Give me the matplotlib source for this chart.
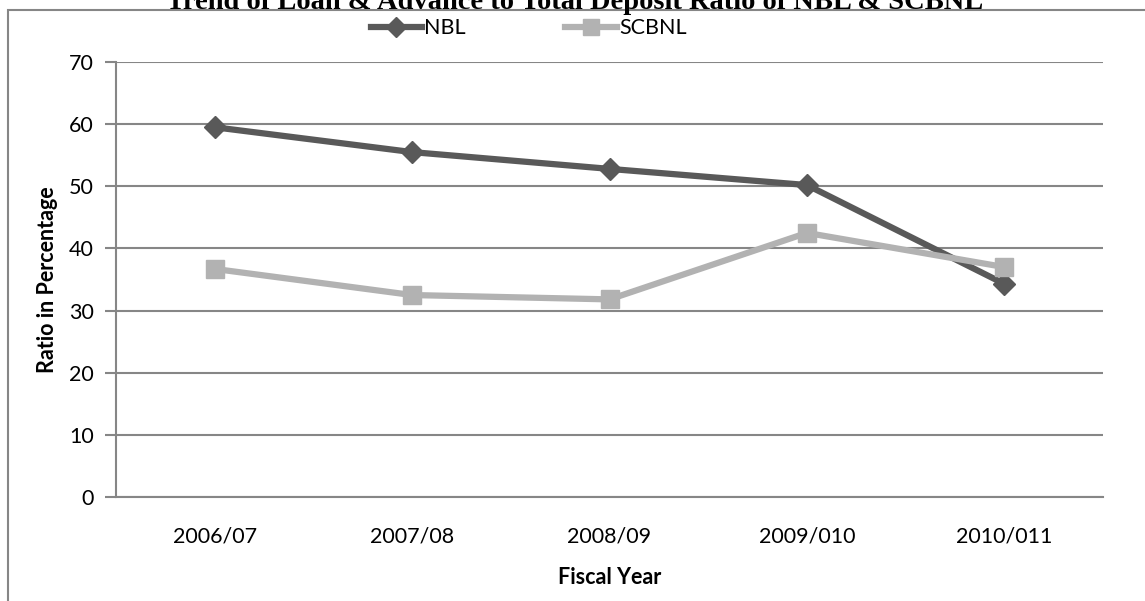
import matplotlib
matplotlib.use("Agg")
from matplotlib import pyplot as plt
from matplotlib.patches import Rectangle

years = ["2006/07", "2007/08", "2008/09", "2009/010", "2010/011"]
nbl = [59.5, 55.5, 52.8, 50.2, 34.3]
scbnl = [36.7, 32.5, 31.8, 42.5, 37.0]

plt.rcParams['font.family'] = ['Lato', 'DejaVu Sans']

fig = plt.figure(figsize=(11.45, 6.01), dpi=100)
W, H = 1145, 601
# axes placed in pixel units of the reference
ax = fig.add_axes([116 / W, 1 - 497 / H, (1103 - 116) / W, (497 - 62) / H])

x = list(range(len(years)))
ax.plot(x, nbl, color="#595959", lw=4.5, marker="D", ms=11, label="NBL", zorder=3)
ax.plot(x, scbnl, color="#b2b2b2", lw=4.5, marker="s", ms=13, label="SCBNL", zorder=3)

ax.set_xlim(-0.5, len(years) - 0.5)
ax.set_ylim(0, 70)
ax.set_yticks(range(0, 71, 10))
ax.set_xticks(x)
ax.set_xticklabels(years)
ax.grid(axis="y", color="#868686", lw=1.5)
ax.set_axisbelow(True)
for s in ["top", "right"]:
    ax.spines[s].set_visible(False)
for s in ["left", "bottom"]:
    ax.spines[s].set_color("#868686")
    ax.spines[s].set_linewidth(1.5)
ax.tick_params(axis="y", length=8, width=1.5, color="#868686", labelsize=15.5, pad=8)
ax.tick_params(axis="x", length=0, labelsize=15.5, pad=21)

ax.set_xlabel("Fiscal Year", fontsize=15.5, fontweight="bold", labelpad=15)
ax.set_ylabel("Ratio in Percentage", fontsize=15.5, fontweight="bold", labelpad=8)

ax.legend(loc="center", bbox_to_anchor=(0.418, 1.078), ncol=2, frameon=False,
          fontsize=15.5, handlelength=2.4, columnspacing=4.6, handletextpad=0.1,
          markerscale=0.9)

# outer frame of the chart
fig.add_artist(Rectangle((8 / W, -0.1), 1.2, 1 - 10 / H + 0.1, transform=fig.transFigure,
                         fill=False, edgecolor="#868686", lw=1.5))

fig.text(0.502, 1 - 9 / H, "Trend of Loan & Advance to Total Deposit Ratio of NBL & SCBNL",
         ha="center", va="baseline", fontsize=20.5, fontweight="bold",
         family=["Liberation Serif", "DejaVu Serif"])

fig.savefig("out.png", dpi=100)
